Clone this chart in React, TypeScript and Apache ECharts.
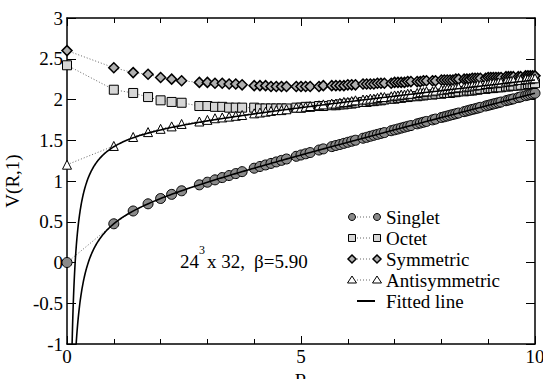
import React, { useEffect, useRef } from "react";
import * as echarts from "echarts";

// Separation R (lattice distances)
const R = [
  0, 1, 1.414, 1.732, 2, 2.236, 2.449, 2.828, 3, 3.162,
  3.317, 3.464, 3.606, 3.742, 4, 4.123, 4.243, 4.359, 4.472, 4.583,
  4.69, 4.899, 5, 5.099, 5.196, 5.385, 5.477, 5.657, 5.745, 5.831,
  5.916, 6, 6.083, 6.164, 6.325, 6.403, 6.481, 6.557, 6.633, 6.708,
  6.782, 6.928, 7, 7.071, 7.141, 7.211, 7.28, 7.348, 7.483, 7.55,
  7.616, 7.681, 7.81, 7.874, 8, 8.062, 8.124, 8.185, 8.246, 8.307,
  8.367, 8.485, 8.544, 8.602, 8.66, 8.718, 8.775, 8.832, 8.944, 9,
  9.055, 9.11, 9.165, 9.22, 9.274, 9.381, 9.434, 9.487, 9.539, 9.644,
  9.695, 9.798, 9.849, 9.899, 9.95, 10,
];

const singlet = [
  0, 0.475, 0.632, 0.72, 0.785, 0.836, 0.88, 0.953, 0.985, 1.014,
  1.042, 1.067, 1.091, 1.115, 1.157, 1.178, 1.197, 1.216, 1.234, 1.253,
  1.27, 1.303, 1.319, 1.334, 1.349, 1.38, 1.394, 1.422, 1.436, 1.448,
  1.462, 1.475, 1.488, 1.5, 1.525, 1.536, 1.549, 1.561, 1.572, 1.584,
  1.594, 1.617, 1.628, 1.638, 1.649, 1.66, 1.671, 1.68, 1.701, 1.711,
  1.721, 1.731, 1.75, 1.76, 1.779, 1.788, 1.797, 1.807, 1.816, 1.825,
  1.834, 1.851, 1.86, 1.869, 1.878, 1.886, 1.894, 1.904, 1.92, 1.928,
  1.937, 1.945, 1.953, 1.961, 1.969, 1.985, 1.993, 2.001, 2.008, 2.024,
  2.032, 2.047, 2.054, 2.062, 2.07, 2.077,
];

const octet = [
  2.42, 2.12, 2.08, 2.03, 1.99, 1.97, 1.96, 1.92, 1.92, 1.91,
  1.91, 1.9, 1.9, 1.9, 1.9, 1.89, 1.89, 1.89, 1.89, 1.89,
  1.89, 1.9, 1.9, 1.91, 1.91, 1.92, 1.92, 1.93, 1.93, 1.94,
  1.94, 1.95, 1.95, 1.96, 1.97, 1.97, 1.98, 1.98, 1.99, 1.99,
  2.0, 2.01, 2.01, 2.02, 2.02, 2.03, 2.03, 2.04, 2.04, 2.05,
  2.05, 2.06, 2.06, 2.07, 2.07, 2.08, 2.08, 2.08, 2.09, 2.09,
  2.1, 2.1, 2.11, 2.11, 2.11, 2.12, 2.12, 2.13, 2.13, 2.14,
  2.14, 2.14, 2.15, 2.15, 2.15, 2.16, 2.16, 2.17, 2.17, 2.17,
  2.18, 2.18, 2.19, 2.19, 2.19, 2.2,
];

const symmetric = [
  2.6, 2.39, 2.33, 2.31, 2.27, 2.25, 2.23, 2.21, 2.21, 2.2,
  2.2, 2.19, 2.19, 2.18, 2.17, 2.17, 2.17, 2.16, 2.16, 2.16,
  2.16, 2.16, 2.16, 2.16, 2.16, 2.16, 2.17, 2.17, 2.17, 2.17,
  2.17, 2.18, 2.18, 2.18, 2.19, 2.19, 2.19, 2.19, 2.2, 2.2,
  2.2, 2.2, 2.21, 2.21, 2.21, 2.21, 2.22, 2.22, 2.22, 2.22,
  2.23, 2.23, 2.23, 2.23, 2.24, 2.24, 2.24, 2.24, 2.24, 2.25,
  2.25, 2.25, 2.25, 2.25, 2.26, 2.26, 2.26, 2.26, 2.26, 2.27,
  2.27, 2.27, 2.27, 2.27, 2.27, 2.28, 2.28, 2.28, 2.28, 2.28,
  2.28, 2.29, 2.29, 2.29, 2.29, 2.29,
];

const antisymmetric = [
  1.2, 1.43, 1.54, 1.6, 1.64, 1.67, 1.7, 1.73, 1.75, 1.77,
  1.78, 1.79, 1.8, 1.81, 1.83, 1.84, 1.85, 1.86, 1.87, 1.87,
  1.88, 1.9, 1.9, 1.91, 1.92, 1.93, 1.94, 1.95, 1.95, 1.96,
  1.97, 1.97, 1.98, 1.99, 2.0, 2.0, 2.01, 2.01, 2.02, 2.03,
  2.03, 2.04, 2.05, 2.05, 2.06, 2.06, 2.07, 2.07, 2.08, 2.09,
  2.09, 2.1, 2.1, 2.11, 2.12, 2.12, 2.13, 2.13, 2.14, 2.14,
  2.15, 2.15, 2.16, 2.16, 2.17, 2.17, 2.18, 2.18, 2.19, 2.19,
  2.2, 2.2, 2.2, 2.21, 2.21, 2.22, 2.22, 2.23, 2.23, 2.24,
  2.24, 2.25, 2.25, 2.25, 2.26, 2.26,
];

// Fit parameters V(R) = c + sigma*R - alpha/R
const singletFit = { c: 0.66, sigma: 0.145, alpha: 0.33 };
const antisymFit = { c: 1.647, sigma: 0.0622, alpha: 0.289 };

const legendLabels = ["Singlet", "Octet", "Symmetric", "Antisymmetric", "Fitted line"];

const FONT = "'Liberation Serif', 'Times New Roman', Times, serif";

function zip(xs: number[], ys: number[]) {
  return xs.map((x, i) => [x, ys[i]]);
}

function fitCurve(p: { c: number; sigma: number; alpha: number }) {
  const pts: number[][] = [];
  for (let r = 0.08; r < 1; r += 0.005) pts.push([r, p.c + p.sigma * r - p.alpha / r]);
  for (let r = 1; r <= 10.0001; r += 0.05) pts.push([r, p.c + p.sigma * r - p.alpha / r]);
  return pts;
}

const markerStyles: any = {
  Singlet: { symbol: "circle", size: 10, fill: "#8a8a8a", stroke: "#000", lw: 1 },
  Octet: { symbol: "rect", size: 9, fill: "#d6d6d6", stroke: "#000", lw: 1 },
  Symmetric: { symbol: "diamond", size: 10, fill: "#b0b0b0", stroke: "#000", lw: 1.5 },
  Antisymmetric: { symbol: "triangle", size: 9, fill: "#ffffff", stroke: "#000", lw: 1 },
};

function legendMarker(kind: string, cx: number, cy: number) {
  const m = markerStyles[kind];
  const style = { fill: m.fill, stroke: m.stroke, lineWidth: m.lw };
  if (kind === "Singlet") return { type: "circle", shape: { cx, cy, r: 3.5 }, style };
  if (kind === "Octet")
    return { type: "rect", shape: { x: cx - 3.5, y: cy - 3.5, width: 7, height: 7 }, style };
  if (kind === "Symmetric")
    return {
      type: "polygon",
      shape: { points: [[cx, cy - 4], [cx + 4, cy], [cx, cy + 4], [cx - 4, cy]] },
      style,
    };
  return {
    type: "polygon",
    shape: { points: [[cx, cy - 4], [cx + 4.5, cy + 3], [cx - 4.5, cy + 3]] },
    style,
  };
}

export default function App() {
  const ref = useRef<HTMLDivElement>(null);
  useEffect(() => {
    if (!ref.current) return;
    const chart = echarts.init(ref.current, undefined, { renderer: "svg" });

    const dataSeries = [
      { name: "Singlet", vals: singlet },
      { name: "Octet", vals: octet },
      { name: "Symmetric", vals: symmetric },
      { name: "Antisymmetric", vals: antisymmetric },
    ].map((s) => {
      const m = markerStyles[s.name];
      return {
        name: s.name,
        type: "line",
        data: zip(R, s.vals),
        symbol: m.symbol,
        symbolSize: m.size,
        showSymbol: true,
        itemStyle: { color: m.fill, borderColor: m.stroke, borderWidth: m.lw },
        lineStyle: { color: "#666", width: 1, type: [1, 2] },
        xAxisIndex: 0,
        yAxisIndex: 0,
        z: 3,
      };
    });

    const fitSeries = [singletFit, antisymFit].map((p, i) => ({
      name: "Fitted line " + (i + 1),
      type: "line",
      data: fitCurve(p),
      showSymbol: false,
      symbol: "none",
      lineStyle: { color: "#000", width: 1.6 },
      clip: true,
      xAxisIndex: 0,
      yAxisIndex: 0,
      z: 5,
    }));

    const txt = (text: string, x: number, y: number, size: number) => ({
      type: "text",
      x,
      y,
      style: {
        text,
        font: `normal ${size}px ${FONT}`,
        fill: "#000",
        align: "left",
        verticalAlign: "middle",
      },
    });

    const graphics: any[] = [];
    const rowY = [217, 238, 259, 280, 301];
    legendLabels.forEach((lab, i) => {
      const y = rowY[i];
      if (lab === "Fitted line") {
        graphics.push({
          type: "line",
          shape: { x1: 357, y1: y, x2: 375, y2: y },
          style: { stroke: "#000", lineWidth: 2 },
        });
      } else {
        graphics.push({
          type: "line",
          shape: { x1: 357, y1: y, x2: 372, y2: y },
          style: { stroke: "#666", lineWidth: 1, lineDash: [1, 2] },
        });
        graphics.push(legendMarker(lab, 352, y));
        graphics.push(legendMarker(lab, 377, y));
      }
      graphics.push(txt(lab, 386, y, 19));
    });
    graphics.push(
      txt("24", 180, 261, 19),
      txt("3", 199, 250, 12),
      txt("x 32,", 207, 261, 19),
      txt("\u03b2=5.90", 254, 261, 19)
    );

    const axisLine = { show: true, onZero: false, lineStyle: { color: "#000", width: 1.5 } };
    const label = { color: "#000", fontSize: 19, fontFamily: FONT };

    chart.setOption({
      animation: false,
      backgroundColor: "#fff",
      textStyle: { fontFamily: FONT },
      grid: {
        left: 67,
        right: 8,
        top: 18,
        bottom: 35,
        containLabel: false,
        outerBoundsMode: "none",
      },
      xAxis: [
        {
          type: "value",
          min: 0,
          max: 10,
          interval: 5,
          position: "bottom",
          axisLine,
          axisTick: { show: true, inside: true, length: 8, lineStyle: { color: "#000", width: 1 } },
          minorTick: { show: true, splitNumber: 5, length: 5, lineStyle: { color: "#000", width: 1 } },
          splitLine: { show: false },
          minorSplitLine: { show: false },
          axisLabel: { ...label, margin: 3 },
          name: "R",
          nameLocation: "middle",
          nameGap: 14,
          nameTextStyle: { color: "#000", fontSize: 19, fontFamily: FONT },
        },
        {
          type: "value",
          min: 0,
          max: 10,
          interval: 5,
          position: "top",
          axisLine,
          axisTick: { show: true, inside: true, length: 8, lineStyle: { color: "#000", width: 1 } },
          minorTick: { show: true, splitNumber: 5, length: 5, lineStyle: { color: "#000", width: 1 } },
          splitLine: { show: false },
          axisLabel: { show: false },
        },
      ],
      yAxis: [
        {
          type: "value",
          min: -1,
          max: 3,
          interval: 0.5,
          position: "left",
          axisLine,
          axisTick: { show: true, inside: true, length: 9, lineStyle: { color: "#000", width: 1 } },
          splitLine: { show: false },
          axisLabel: { ...label, margin: 4 },
          name: "V(R,1)",
          nameLocation: "middle",
          nameGap: 40,
          nameTextStyle: { color: "#000", fontSize: 19, fontFamily: FONT },
        },
        {
          type: "value",
          min: -1,
          max: 3,
          interval: 0.5,
          position: "right",
          axisLine,
          axisTick: { show: true, inside: true, length: 9, lineStyle: { color: "#000", width: 1 } },
          splitLine: { show: false },
          axisLabel: { show: false },
        },
      ],
      series: [...dataSeries, ...fitSeries],
      graphic: graphics,
    });
    return () => chart.dispose();
  }, []);
  return (
    <div
      ref={ref}
      style={{ position: "absolute", left: 0, top: 0, width: 543, height: 379, background: "#fff" }}
    />
  );
}
